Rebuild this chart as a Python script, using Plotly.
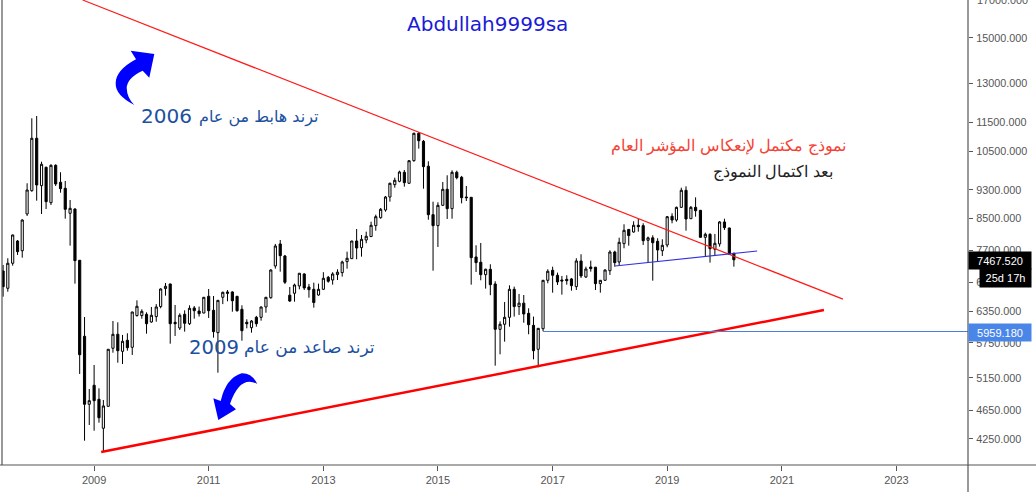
import numpy as np
import pandas as pd
import plotly.graph_objects as go

WIDTH = 1036
HEIGHT = 492
PLOT_L = 2
PLOT_R = 968
PLOT_B = 465

# monthly candles, Jun 2007 .. Mar 2020
months = pd.date_range("2007-06-01", periods=154, freq="MS")

opens = [
    7209, 6827, 7386, 7921, 7683, 8624, 9279, 10942, 9427, 9988, 8936, 10050, 9528, 9349,
    8643, 8760, 7455, 5870, 4740, 5032, 4815, 4396, 4710, 5653, 5907, 5599, 5797, 5670,
    6265, 6265, 6291, 6140, 6245, 6445, 6820, 6920, 6134, 6025, 6291, 6107, 6417, 6356,
    6316, 6657, 6370, 5937, 6636, 6748, 6748, 6657, 6390, 6134, 6031, 6231, 6231, 6437,
    6628, 7323, 7848, 7557, 6680, 6720, 6877, 7141, 6855, 6805, 6684, 6805, 7067, 7007,
    7126, 7171, 7423, 7493, 7921, 7757, 7946, 8032, 8313, 8524, 8732, 9097, 9457, 9557,
    9832, 9498, 10197, 11115, 10839, 10021, 8605, 8313, 8862, 9320, 8769, 9832, 9680,
    9097, 9087, 7533, 7409, 7126, 7247, 6920, 6000, 6096, 6231, 6805, 6445, 6515, 6310,
    6076, 5635, 6012, 7000, 7224, 7112, 7007, 7022, 7030, 6862, 7439, 7074, 7300, 7295,
    6927, 7000, 7215, 7652, 7416, 7855, 8215, 8149, 8323, 8313, 7939, 8000, 7914, 7683,
    7823, 8562, 8462, 8806, 9291, 8497, 8806, 8724, 8014, 8090, 7717, 7848, 8410, 8252,
    7621,
]
highs = [
    7346, 7503, 8080, 7946, 8481, 9498, 11652, 11737, 10165, 10008, 10083, 10083, 9832,
    9566, 9011, 8779, 7462, 6237, 4973, 5363, 4984, 4804, 5640, 6159, 6134, 5895, 5926,
    6342, 6573, 6390, 6330, 6437, 6495, 6827, 6942, 6927, 6477, 6310, 6370, 6471, 6457,
    6445, 6640, 6812, 6663, 6579, 6754, 6790, 6763, 6663, 6471, 6192, 6178, 6259, 6445,
    6643, 7247, 7848, 7946, 7581, 6855, 6927, 7160, 7157, 6920, 6948, 6927, 7181, 7097,
    7181, 7247, 7446, 7660, 7925, 8226, 8073, 8157, 8417, 8605, 8788, 9126, 9516, 9667,
    9882, 9903, 10209, 11136, 11160, 10883, 10178, 8964, 8947, 9537, 9740, 9893, 9882,
    9720, 9418, 9097, 7815, 7872, 7261, 7362, 6979, 6152, 6539, 6891, 6862, 6706, 6684,
    6410, 6245, 6025, 7007, 7247, 7307, 7171, 7097, 7112, 7052, 7503, 7598, 7307, 7446,
    7300, 7005, 7247, 7693, 7683, 8005, 8349, 8218, 8428, 8497, 8375, 8032, 8065, 7990,
    7964, 8570, 8643, 8825, 9367, 9407, 8843, 9087, 8732, 8132, 8116, 8098, 8436, 8497,
    8260, 7636,
]
lows = [
    6649, 6754, 7330, 7581, 7517, 8570, 9250, 8992, 8624, 8760, 8871, 9418, 9221, 8497,
    7806, 6927, 5214, 4227, 4441, 4362, 4473, 4083, 4704, 5575, 5402, 5380, 5610, 5535,
    6245, 6204, 5918, 6126, 6146, 6410, 6670, 5735, 5876, 5987, 5956, 6082, 6204, 6245,
    6310, 6218, 5845, 5235, 6495, 6553, 6342, 6342, 5789, 6019, 5937, 6050, 6165, 6322,
    6606, 7261, 7193, 6920, 6539, 6545, 6805, 6790, 6628, 6423, 6670, 6790, 6948, 6905,
    7007, 7082, 7261, 7486, 7479, 7541, 7865, 8022, 8183, 8497, 8686, 8964, 9367, 9528,
    9397, 9486, 10165, 10590, 9338, 8470, 7215, 7774, 8843, 8489, 8497, 9617, 8917, 8983,
    6905, 7186, 7000, 6820, 6680, 5352, 5547, 5772, 6050, 6245, 6277, 6126, 5907, 5460,
    5325, 5963, 6935, 6733, 6898, 6691, 6905, 6775, 6790, 7052, 7052, 7193, 6790, 6733,
    6992, 7119, 7307, 7323, 7742, 7806, 8132, 8157, 7823, 7400, 6992, 7439, 7557, 7766,
    8375, 8417, 8788, 8183, 8489, 8551, 8005, 7557, 7400, 7557, 7782, 8200, 7589, 7307,
]
closes = [
    6862, 7386, 8073, 7660, 8462, 9299, 10942, 9447, 10083, 8964, 10050, 9477, 9338, 8752,
    8779, 7446, 5540, 4740, 4794, 4794, 4544, 4715, 5635, 5907, 5610, 5779, 5663, 6336,
    6451, 6350, 6107, 6271, 6437, 6812, 6870, 6107, 6107, 6271, 6115, 6410, 6362, 6303,
    6636, 6362, 5956, 6573, 6741, 6720, 6565, 6362, 5974, 6107, 6159, 6107, 6437, 6636,
    7231, 7798, 7564, 6957, 6559, 6898, 7157, 6834, 6797, 6527, 6805, 7045, 6979, 7141,
    7181, 7416, 7503, 7921, 7749, 7964, 8040, 8323, 8551, 8752, 9097, 9498, 9587, 9842,
    9516, 10197, 11115, 10859, 10008, 8605, 8313, 8862, 9320, 8769, 9832, 9667, 9077,
    9077, 7517, 7400, 7126, 7247, 6905, 6000, 6096, 6231, 6805, 6445, 6515, 6297, 6088,
    5610, 6019, 7000, 7202, 7112, 6964, 6986, 6992, 6883, 7439, 7097, 7254, 7261, 6927,
    7000, 7231, 7652, 7400, 7889, 8192, 8058, 8323, 8287, 7929, 8000, 7879, 7700, 7815,
    8551, 8462, 8806, 9291, 8489, 8806, 8713, 8014, 8090, 7732, 7865, 8410, 8260, 7598,
    7467.52,
]

last_price = 7467.52
support_price = 5959.18
support_start = "2016-11-01"
support_end = "2024-04-01"

down_line_dates = ["2008-10-20", "2022-01-25"]
down_line_prices = [16900, 6599]
up_line_dates = ["2009-02-15", "2021-09-26"]
up_line_prices = [4079, 6376]
neck_line_dates = ["2018-02-03", "2020-07-27"]
neck_line_prices = [7322, 7676]

# 17000 sits just past the top of the range, drawn separately below
price_ticks = [15000, 13000, 11500, 10500, 9300, 8500, 7700, 6950, 6350, 5750, 5150, 4650, 4250]
top_tick = 17000


def fx(x):
    return (x - PLOT_L) / (PLOT_R - PLOT_L)


def fy(y):
    return 1 - y / PLOT_B


def label(text, xc, yc, size, color, family="DejaVu Sans"):
    return dict(
        text=text, xref="paper", yref="paper", x=fx(xc), y=fy(yc), xanchor="center", yanchor="middle",
        showarrow=False, font=dict(family=family, size=size, color=color),
    )


def price_box(text, x0, x1, y0, y1, bg):
    return dict(
        text=text, xref="paper", yref="paper", x=fx(x0), y=fy(y0), xanchor="left", yanchor="top",
        width=x1 - x0, height=y1 - y0, align="center", valign="middle", bgcolor=bg, borderpad=0,
        showarrow=False, font=dict(family="Liberation Sans", size=11, color="white"),
    )


def pixel_path(parts):
    out = []
    for cmd, pts in parts:
        coords = " ".join(f"{fx(px):.5f},{fy(py):.5f}" for px, py in pts)
        out.append(f"{cmd} {coords}")
    return " ".join(out) + " Z"


arrow_up = pixel_path([
    ("M", [(130.7, 50.7)]), ("L", [(154.3, 54)]), ("L", [(149.3, 77.7)]), ("L", [(142.7, 70.7)]),
    ("Q", [(127, 78), (126.7, 88)]), ("Q", [(127, 98), (134.3, 105)]),
    ("Q", [(115, 95), (115.7, 83)]), ("Q", [(116, 70), (136, 59.3)]),
])
arrow_down = pixel_path([
    ("M", [(213.3, 398.3)]), ("L", [(220.7, 401)]), ("Q", [(226, 378), (241.7, 373.3)]),
    ("Q", [(252, 373), (257.3, 384)]), ("Q", [(240, 375), (230, 404)]),
    ("L", [(236, 409.3)]), ("L", [(218.3, 420)]),
])

fig = go.Figure()
fig.add_trace(go.Candlestick(
    x=months, open=opens, high=highs, low=lows, close=closes, whiskerwidth=0,
    increasing=dict(line=dict(color="black", width=1), fillcolor="white"),
    decreasing=dict(line=dict(color="black", width=1), fillcolor="black"),
    showlegend=False,
))
fig.add_trace(go.Scatter(x=down_line_dates, y=down_line_prices, mode="lines",
                         line=dict(color="#ff1a1a", width=1.2), showlegend=False))
fig.add_trace(go.Scatter(x=up_line_dates, y=up_line_prices, mode="lines",
                         line=dict(color="#ff0000", width=2.5), showlegend=False))
fig.add_trace(go.Scatter(x=neck_line_dates, y=neck_line_prices, mode="lines",
                         line=dict(color="#2f2fe0", width=1.2), showlegend=False))
fig.add_trace(go.Scatter(x=[support_start, support_end], y=[support_price, support_price], mode="lines",
                         line=dict(color="#4a7fdc", width=1), showlegend=False))

axis_color = "#555555"
fig.update_layout(
    width=WIDTH, height=HEIGHT,
    margin=dict(l=PLOT_L, r=WIDTH - PLOT_R, t=0, b=HEIGHT - PLOT_B, pad=0),
    paper_bgcolor="white", plot_bgcolor="white",
    font=dict(family="Liberation Sans", size=11, color=axis_color),
    xaxis=dict(
        type="date", range=["2007-05-25", "2024-04-01"], rangeslider=dict(visible=False),
        tick0="2009-01-01", dtick="M24", tickformat="%Y", ticks="outside", ticklen=5, tickcolor=axis_color,
        showgrid=False, zeroline=False, tickfont=dict(size=11, color=axis_color),
    ),
    yaxis=dict(
        type="log", side="right", range=[np.log10(3916), np.log10(16903)],
        tickvals=price_ticks, ticktext=[f"{p:.3f}" for p in price_ticks],
        ticks="outside", ticklen=4, tickcolor=axis_color, showgrid=False, zeroline=False,
        tickfont=dict(size=10.8, color=axis_color), ticklabelstandoff=1,
    ),
    shapes=[
        dict(type="line", xref="paper", yref="paper", x0=fx(PLOT_R), x1=fx(PLOT_R), y0=fy(0), y1=fy(HEIGHT),
             line=dict(color=axis_color, width=1.2)),
        dict(type="line", xref="paper", yref="paper", x0=fx(0), x1=fx(WIDTH), y0=fy(PLOT_B), y1=fy(PLOT_B),
             line=dict(color=axis_color, width=1.2)),
        dict(type="line", xref="paper", yref="paper", x0=fx(2), x1=fx(2), y0=fy(0), y1=fy(PLOT_B),
             line=dict(color=axis_color, width=1.2)),
        dict(type="path", xref="paper", yref="paper", path=arrow_up, fillcolor="#0000ff", line=dict(width=0)),
        dict(type="path", xref="paper", yref="paper", path=arrow_down, fillcolor="#0000ff", line=dict(width=0)),
    ],
    annotations=[
        label("Abdullah9999sa", 487, 24, 20, "#1a1ad6"),
        label("2006", 166, 116.5, 20, "#1c50a0"),
        label("ترند هابط من عام", 258, 117, 16, "#1c50a0"),
        label("2009", 213.5, 347, 19.6, "#1c50a0"),
        label("ترند صاعد من عام", 309.5, 347, 17, "#1c50a0"),
        label("نموذج مكتمل لإنعكاس المؤشر العام", 728, 146, 16, "#f44336", "Liberation Sans"),
        label("بعد اكتمال النموذج", 773, 172, 16, "#222222", "Liberation Sans"),
        label(f"{top_tick:.3f}", 1002, 0, 10.8, axis_color, "Liberation Sans"),
        price_box(f"{last_price:.3f}", 968, 1030, 251, 268, "black"),
        price_box("25d 17h", 979, 1030, 268, 286, "black"),
        price_box(f"{support_price:.3f}", 968, 1030, 323, 340, "#4a86e8"),
    ],
)

fig.write_html("out.html", config={"displayModeBar": False}, post_script="document.body.style.margin='0';")
